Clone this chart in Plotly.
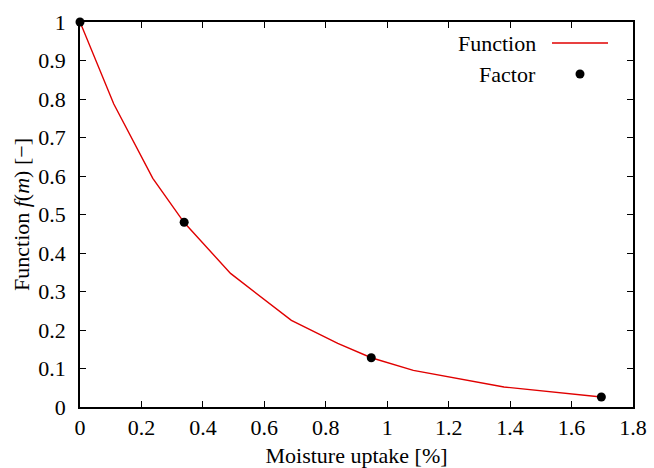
import plotly.graph_objects as go

# curve f(m)
moisture = [0.0, 0.11, 0.237, 0.339, 0.49, 0.688, 0.839, 0.948, 1.085, 1.38, 1.697]
function_vals = [1.0, 0.787, 0.594, 0.479, 0.347, 0.225, 0.165, 0.128, 0.095, 0.052, 0.026]

# discrete factors
factor_m = [0.0, 0.339, 0.948, 1.697]
factor_vals = [1.0, 0.48, 0.128, 0.026]

x_ticks = [0, 0.2, 0.4, 0.6, 0.8, 1.0, 1.2, 1.4, 1.6, 1.8]
x_ticklabels = ['0', '0.2', '0.4', '0.6', '0.8', '1', '1.2', '1.4', '1.6', '1.8']
y_ticks = [0, 0.1, 0.2, 0.3, 0.4, 0.5, 0.6, 0.7, 0.8, 0.9, 1.0]
y_ticklabels = ['0', '0.1', '0.2', '0.3', '0.4', '0.5', '0.6', '0.7', '0.8', '0.9', '1']

FONT = 'Liberation Serif, serif'
FS = 22
W, H = 654, 468
ML, MR, MT, MB = 80, 21, 22, 61

fig = go.Figure()

fig.add_trace(go.Scatter(
    x=moisture,
    y=function_vals,
    mode='lines',
    name='Function',
    line=dict(color='#e00000', width=1.4),
    cliponaxis=False
))

fig.add_trace(go.Scatter(
    x=factor_m,
    y=factor_vals,
    mode='markers',
    name='Factor',
    marker=dict(color='black', size=9),
    cliponaxis=False
))

axis_common = dict(
    showline=True,
    linecolor='black',
    linewidth=1.5,
    mirror='allticks',
    ticks='inside',
    ticklen=6,
    tickwidth=1,
    tickcolor='black',
    showgrid=False,
    zeroline=False,
    automargin=False,
    tickfont=dict(family=FONT, size=FS, color='black'),
)

fig.update_layout(
    width=W,
    height=H,
    margin=dict(l=ML, r=MR, t=MT, b=MB),
    paper_bgcolor='white',
    plot_bgcolor='white',
    showlegend=False,
    xaxis=dict(
        range=[0, 1.8],
        tickvals=x_ticks,
        ticktext=x_ticklabels,
        ticklabelstandoff=0,
        title=dict(text='Moisture uptake [%]', font=dict(family=FONT, size=FS, color='black'), standoff=9),
        **axis_common
    ),
    yaxis=dict(
        range=[0, 1],
        tickvals=y_ticks,
        ticktext=y_ticklabels,
        ticklabelstandoff=8,
        title=dict(text='Function <i>f</i>(<i>m</i>) [−]', font=dict(family=FONT, size=FS, color='black'), standoff=3),
        **axis_common
    ),
)

# pixel -> paper coords, for the gnuplot-style key
pw = W - ML - MR
ph = H - MT - MB
def px(x):
    return (x - ML) / pw
def py(y):
    return 1 - (y - MT) / ph

for label, ypix in [('Function', 43), ('Factor', 74)]:
    fig.add_annotation(x=px(538), y=py(ypix), xref='paper', yref='paper', text=label,
                       showarrow=False, xanchor='right', yanchor='middle',
                       font=dict(family=FONT, size=FS, color='black'))

fig.add_shape(type='line', xref='paper', yref='paper',
              x0=px(552), x1=px(608), y0=py(43), y1=py(43),
              line=dict(color='#e00000', width=1.4))
fig.add_shape(type='circle', xref='paper', yref='paper',
              xsizemode='pixel', ysizemode='pixel',
              xanchor=px(580), yanchor=py(74),
              x0=-4.5, x1=4.5, y0=-4.5, y1=4.5,
              fillcolor='black', line=dict(color='black', width=0))

# drop the browser's default body margin so the figure sits at the page origin
fig.write_html('out.html', config={'displayModeBar': False},
               post_script="document.body.style.margin='0';")
